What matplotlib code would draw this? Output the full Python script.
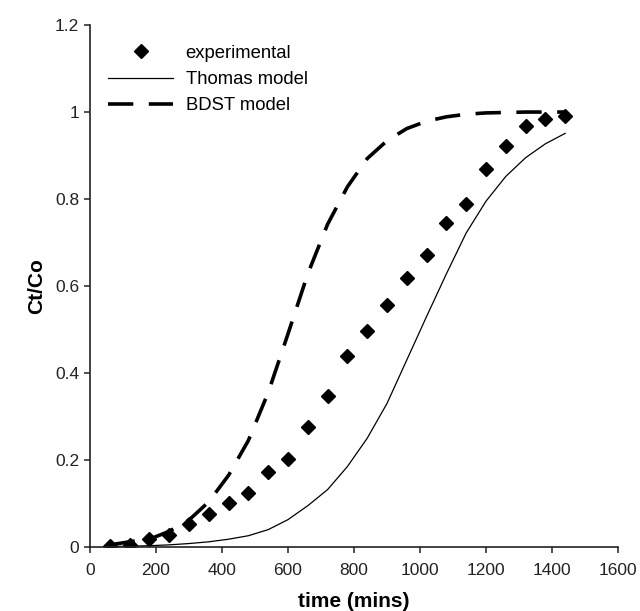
import matplotlib
matplotlib.use('Agg')
import matplotlib.pyplot as plt

plt.rcParams['font.family'] = ['Liberation Sans', 'DejaVu Sans']

# dane
czas = [60, 120, 180, 240, 300, 360, 420, 480, 540, 600, 660, 720,
        780, 840, 900, 960, 1020, 1080, 1140, 1200, 1260, 1320, 1380, 1440]
eksperyment = [0.002, 0.005, 0.019, 0.028, 0.053, 0.076, 0.102, 0.124,
               0.172, 0.202, 0.277, 0.348, 0.439, 0.497, 0.557, 0.618,
               0.671, 0.745, 0.789, 0.868, 0.922, 0.969, 0.985, 0.991]
thomas = [0.001, 0.002, 0.003, 0.005, 0.008, 0.012, 0.018, 0.026,
          0.040, 0.063, 0.095, 0.132, 0.185, 0.250, 0.330, 0.430,
          0.530, 0.628, 0.722, 0.795, 0.852, 0.895, 0.927, 0.951]
bdst = [0.005, 0.012, 0.018, 0.036, 0.062, 0.104, 0.165, 0.245,
        0.355, 0.490, 0.628, 0.742, 0.828, 0.893, 0.934, 0.962,
        0.979, 0.989, 0.995, 0.998, 0.999, 1.0, 1.0, 1.0]

x_ticks = [0, 200, 400, 600, 800, 1000, 1200, 1400, 1600]
y_ticks = [0, 0.2, 0.4, 0.6, 0.8, 1.0, 1.2]
y_labels = ['0', '0.2', '0.4', '0.6', '0.8', '1', '1.2']

fig = plt.figure(figsize=(6.4, 6.11), dpi=100)
ax = fig.add_axes([0.1406, 0.1047, 0.825, 0.8543])

ax.plot(czas, eksperyment, 'kD', markersize=7.5, linestyle='none',
        label='experimental')
ax.plot(czas, thomas, 'k-', linewidth=0.9, label='Thomas model')
ax.plot(czas, bdst, color='black', linewidth=2.6, dashes=(7, 4.3),
        label='BDST model')

ax.set_xlim(0, 1600)
ax.set_ylim(0, 1.2)
ax.set_xticks(x_ticks)
ax.set_yticks(y_ticks)
ax.set_yticklabels(y_labels)
ax.tick_params(direction='out', length=4.3, width=1.1, labelsize=12.5,
               colors='#222222')
ax.tick_params(axis='x', pad=7)
for s in ['top', 'right']:
    ax.spines[s].set_visible(False)
for s in ['left', 'bottom']:
    ax.spines[s].set_linewidth(1.2)
    ax.spines[s].set_color('#222222')

ax.set_xlabel('time (mins)', fontsize=15, fontweight='bold', labelpad=10)
ax.set_ylabel('Ct/Co', fontsize=15, fontweight='bold', labelpad=6)

ax.legend(loc='upper left', bbox_to_anchor=(0.035, 0.962), frameon=False,
          fontsize=13.3, handlelength=3.5, handletextpad=0.68,
          labelspacing=0.5, borderpad=0, borderaxespad=0)

plt.savefig('out.png', dpi=100)
